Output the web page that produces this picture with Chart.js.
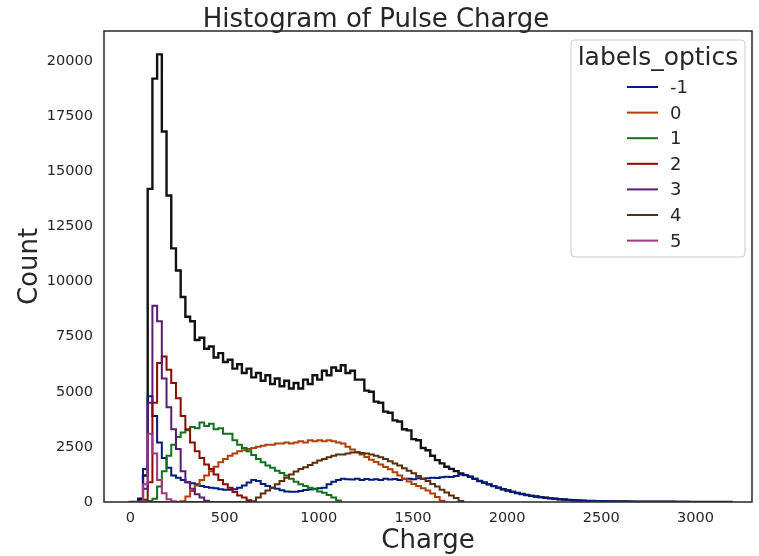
<!DOCTYPE html>
<html>
<head>
<meta charset="utf-8">
<script src="https://cdn.jsdelivr.net/npm/chart.js@4"></script>
<style>
  html, body { margin: 0; padding: 0; background: #fff; }
  canvas { display: block; }
</style>
</head>
<body>
<canvas id="chargeChart" width="759" height="556"></canvas>
<script>
// histogram bins: 25 charge units wide, first edge at -8
const binStart = -8;
const binWidth = 25;

const xTicks = [0, 500, 1000, 1500, 2000, 2500, 3000];
const yTicks = [0, 2500, 5000, 7500, 10000, 12500, 15000, 17500, 20000];

const hueLabels = ["-1", "0", "1", "2", "3", "4", "5"];
const hueColors = ["#001c7f", "#b1400d", "#12711c", "#8c0800", "#591e71", "#592f0d", "#a23582"];

// total counts (black outline)
const countsTotal = [
  0, 150, 1200, 14200, 19200, 20300, 16800, 13900, 11500, 10500,
  9300, 8400, 8200, 7350, 7450, 6950, 7050, 6550, 6750, 6350,
  6450, 6050, 6250, 5850, 6050, 5650, 5850, 5500, 5750, 5350,
  5600, 5250, 5500, 5150, 5400, 5150, 5550, 5350, 5750, 5550,
  5950, 5750, 6100, 5950, 6200, 5850, 5950, 5550, 5550, 5050,
  5000, 4550, 4500, 4100, 4050, 3700, 3650, 3300, 3250, 2850,
  2800, 2450, 2350, 2100, 1900, 1750, 1600, 1500, 1400, 1300,
  1220, 1150, 1050, 950, 880, 800, 720, 650, 580, 520,
  460, 410, 360, 320, 280, 250, 220, 190, 165, 145,
  125, 110, 95, 80, 70, 60, 50, 45, 40, 35,
  30, 28, 25, 22, 20, 18, 16, 15, 13, 12,
  11, 10, 9, 8, 8, 7, 6, 6, 5, 5,
  4, 4, 3, 3, 2, 2, 1, 0
];

// per label_optics
const countsM1 = [
  0, 20, 1500, 4800, 3900, 2700, 2000, 1550, 1200, 1100,
  1000, 900, 850, 800, 720, 680, 650, 620, 580, 560,
  560, 580, 650, 750, 880, 1000, 950, 820, 720, 650,
  600, 530, 480, 460, 470, 500, 540, 570, 600, 620,
  650, 800, 920, 1000, 1050, 1030, 1020, 1050, 1000, 1040,
  1010, 1030, 1000, 1050, 1020, 1040, 1000, 1050, 1060, 1030,
  1080, 1060, 1080, 1100, 1090, 1120, 1150, 1130, 1180, 1250,
  1220, 1150, 1050, 950, 880, 800, 720, 650, 580, 520,
  460, 410, 360, 320, 280, 250, 220, 190, 165, 145,
  125, 110, 95, 80, 70, 60, 50, 45, 40, 35,
  30, 28, 25, 22, 20, 18, 16, 15, 13, 12,
  11, 10, 9, 8, 8, 7, 6, 6, 5, 5,
  4, 4, 3, 3, 2, 2, 1, 0
];
const counts0 = [
  0, 0, 0, 0, 0, 0, 0, 0, 0, 0,
  30, 250, 500, 750, 1000, 1200, 1400, 1600, 1800, 1950,
  2100, 2200, 2300, 2350, 2400, 2450, 2500, 2550, 2600, 2600,
  2650, 2650, 2700, 2650, 2700, 2750, 2700, 2800, 2750, 2800,
  2750, 2800, 2750, 2700, 2650, 2500, 2380, 2270, 2150, 2040,
  1920, 1810, 1700, 1590, 1480, 1350, 1200, 1050, 930, 820,
  720, 620, 520, 380, 230, 60, 0
];
const counts1 = [
  0, 0, 0, 50, 150, 700, 1400, 2100, 2600, 2950,
  3150, 3250, 3400, 3350, 3600, 3450, 3550, 3300, 3350, 3100,
  3100, 2800, 2600, 2450, 2300, 2130, 1950, 1800, 1650, 1550,
  1420, 1320, 1200, 1050, 920, 800, 720, 650, 580, 480,
  420, 320, 200, 70, 0
];
const counts2 = [
  0, 0, 100, 900, 4500, 6300, 6600, 6000, 5400, 4700,
  3900, 3300, 2700, 2300, 2000, 1700, 1500, 1250, 1000, 800,
  650, 450, 300, 200, 80, 0
];
const counts3 = [0, 30, 600, 4500, 8900, 8200, 5600, 4300, 3300, 2400, 1400, 900, 600, 350, 200, 60, 0];
const counts4 = [
  0, 0, 0, 0, 0, 0, 0, 0, 0, 0,
  0, 0, 0, 0, 0, 0, 0, 0, 0, 0,
  0, 0, 0, 0, 0, 30, 200, 380, 520, 650,
  800, 950, 1100, 1250, 1380, 1500, 1580, 1680, 1780, 1880,
  1950, 2030, 2100, 2150, 2150, 2200, 2250, 2250, 2220, 2200,
  2150, 2100, 2030, 1950, 1850, 1750, 1650, 1530, 1420, 1300,
  1180, 1050, 950, 820, 700, 560, 430, 300, 180, 50, 0
];
const counts5 = [0, 0, 800, 3100, 2200, 1000, 400, 120, 30, 0];

const hueCounts = [countsM1, counts0, counts1, counts2, counts3, counts4, counts5];

// bin i covers [edge i, edge i+1]: a leading point at the left edge,
// then one point per right edge, drawn with step-before
function toSteps(values) {
  const pts = [{ x: binStart, y: values[0] }];
  values.forEach((v, i) => pts.push({ x: binStart + (i + 1) * binWidth, y: v }));
  return pts;
}

const datasets = hueCounts.map((vals, i) => ({
  label: hueLabels[i],
  data: toSteps(vals),
  borderColor: hueColors[i],
  borderWidth: 2,
  stepped: "before",
  pointRadius: 0,
  fill: false,
  order: hueCounts.length - i
}));
datasets.push({
  label: "total",
  data: toSteps(countsTotal),
  borderColor: "#111111",
  borderWidth: 2.4,
  stepped: "before",
  pointRadius: 0,
  fill: false,
  order: 20
});

const fontFamily = "'DejaVu Sans', sans-serif";
const textColor = "#262626";

const frameAndLegend = {
  id: "frameAndLegend",
  afterDatasetsDraw(chart) {
    const { ctx, chartArea: a } = chart;
    ctx.save();
    ctx.strokeStyle = "#333333";
    ctx.lineWidth = 1.6;
    ctx.strokeRect(a.left, a.top, a.right - a.left, a.bottom - a.top);
    ctx.restore();
  },
  afterDraw(chart) {
    const { ctx, chartArea: a } = chart;
    const w = 174, h = 217;
    const x0 = a.right - 7 - w, y0 = a.top + 9;
    ctx.save();
    ctx.beginPath();
    ctx.roundRect(x0, y0, w, h, 4);
    ctx.fillStyle = "rgba(255,255,255,0.85)";
    ctx.fill();
    ctx.strokeStyle = "#cccccc";
    ctx.lineWidth = 1;
    ctx.stroke();

    ctx.fillStyle = textColor;
    ctx.font = "25px " + fontFamily;
    ctx.textAlign = "center";
    ctx.textBaseline = "alphabetic";
    ctx.fillText("labels_optics", x0 + w / 2, y0 + 25);

    ctx.font = "18px " + fontFamily;
    ctx.textAlign = "left";
    hueLabels.forEach((lab, i) => {
      const base = y0 + 53 + i * 25.6;
      ctx.strokeStyle = hueColors[i];
      ctx.lineWidth = 2;
      ctx.beginPath();
      ctx.moveTo(x0 + 56, base - 6);
      ctx.lineTo(x0 + 87, base - 6);
      ctx.stroke();
      ctx.fillStyle = textColor;
      ctx.fillText(lab, x0 + 99, base);
    });
    ctx.restore();
  }
};

const ctx = document.getElementById("chargeChart").getContext("2d");
new Chart(ctx, {
  type: "line",
  data: { datasets: datasets },
  options: {
    responsive: false,
    animation: false,
    layout: { padding: { left: 0, right: 7, top: 0, bottom: 0 } },
    plugins: {
      legend: { display: false },
      tooltip: { enabled: false },
      title: {
        display: true,
        text: "Histogram of Pulse Charge",
        color: textColor,
        font: { family: fontFamily, size: 26, weight: "normal", lineHeight: 1 },
        padding: { top: 7, bottom: -2 }
      }
    },
    scales: {
      x: {
        type: "linear",
        min: -140,
        max: 3300,
        grid: { display: false, drawTicks: false },
        border: { display: false },
        ticks: {
          color: textColor,
          font: { family: fontFamily, size: 14.5 },
          padding: 8,
          callback: v => String(v)
        },
        afterBuildTicks: s => { s.ticks = xTicks.map(v => ({ value: v })); },
        afterFit: s => { s.height = 54; },
        title: {
          display: true,
          text: "Charge",
          color: textColor,
          font: { family: fontFamily, size: 26, lineHeight: 1 },
          padding: { top: 0, bottom: 2 }
        }
      },
      y: {
        min: 0,
        max: 21360,
        grid: { display: false, drawTicks: false },
        border: { display: false },
        ticks: {
          color: textColor,
          font: { family: fontFamily, size: 14.5 },
          padding: 11,
          callback: v => String(v)
        },
        afterBuildTicks: s => { s.ticks = yTicks.map(v => ({ value: v })); },
        afterFit: s => { s.width = 104; },
        title: {
          display: true,
          text: "Count",
          color: textColor,
          font: { family: fontFamily, size: 26, lineHeight: 1 },
          padding: { top: 17, bottom: 0 }
        }
      }
    }
  },
  plugins: [frameAndLegend]
});
</script>
</body>
</html>
